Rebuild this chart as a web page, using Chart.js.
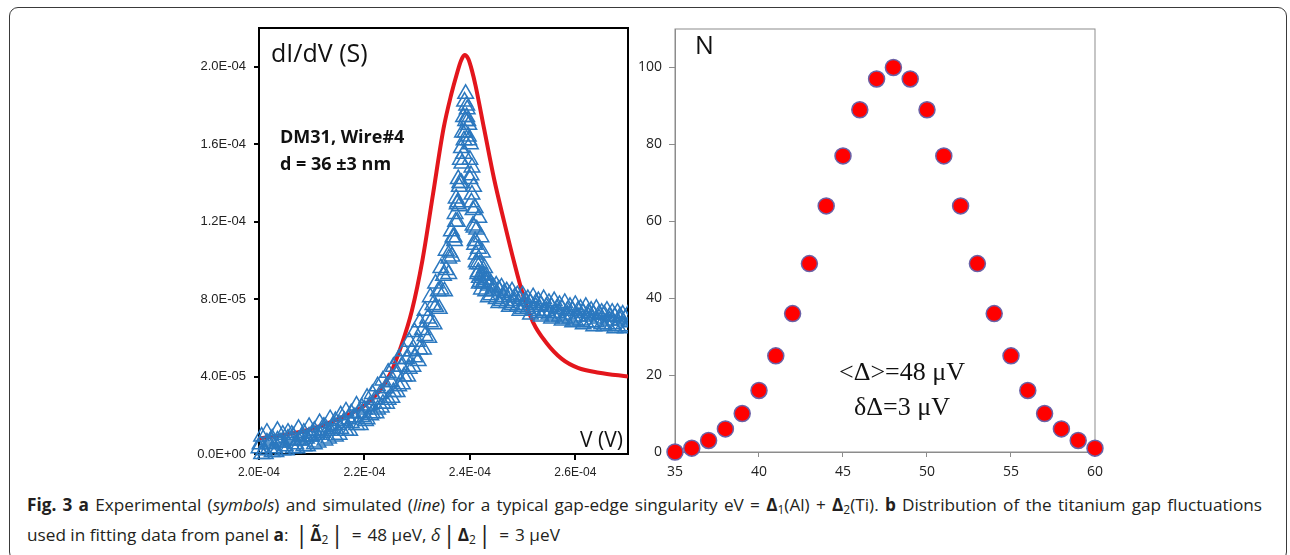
<!DOCTYPE html>
<html lang="en">

<head>
    <meta charset="UTF-8">
    <title>Fig. 3 - gap-edge singularity</title>
    <script src="https://cdn.jsdelivr.net/npm/chart.js"></script>
    <style>
        body { margin: 0; width: 1290px; height: 555px; overflow: hidden; position: relative; background: #fff; font-family: "Open Sans", sans-serif; }
        .frame { position: absolute; left: 9px; top: 7px; width: 1276px; height: 552px; border: 1.5px solid #3a3a3a; border-radius: 9px; }
        #chartA { position: absolute; left: 180px; top: 0; }
        #chartB { position: absolute; left: 630px; top: 0; }
        .caption { position: absolute; left: 27px; width: 1235px; font-size: 17.2px; line-height: 30px; color: #231f20; white-space: nowrap; }
        .line1 { top: 490px; text-align: justify; text-align-last: justify; white-space: normal; }
        .line2 { top: 520px; }
        .caption sub { font-size: 0.7em; vertical-align: -0.25em; line-height: 0; }
        .caption .bar { font-size: 1.4em; line-height: 0; vertical-align: -0.08em; padding: 0 2px; }
        .caption .eq { padding: 0 6px; }
    </style>
</head>

<body>
    <div class="frame"></div>
    <canvas id="chartA" width="460" height="490"></canvas>
    <canvas id="chartB" width="480" height="490"></canvas>

    <div class="caption line1"><b>Fig. 3</b> <b>a</b> Experimental (<i>symbols</i>) and simulated (<i>line</i>) for a typical gap-edge singularity eV = <b>Δ</b><sub>1</sub>(Al) + <b>Δ</b><sub>2</sub>(Ti). <b>b</b> Distribution of the titanium gap fluctuations</div>
    <div class="caption line2">used in fitting data from panel <b>a</b>: <span class="bar">|</span><b>Δ̃</b><sub>2</sub><span class="bar">|</span><span class="eq">=</span>48 μeV, <i>δ</i><span class="bar">|</span><b>Δ</b><sub>2</sub><span class="bar">|</span><span class="eq">=</span>3 μeV</div>

    <script>
        // panel a, both axes in units of 1E-04 (V and S)
        const simV = [2.000, 2.050, 2.100, 2.150, 2.200, 2.230, 2.250, 2.270, 2.290, 2.310,
                      2.330, 2.350, 2.365, 2.375, 2.383, 2.390, 2.397, 2.404, 2.411, 2.427,
                      2.446, 2.465, 2.484, 2.500, 2.520, 2.545, 2.575, 2.605, 2.645, 2.700];
        const simG = [0.08, 0.10, 0.13, 0.18, 0.25, 0.33, 0.42, 0.56, 0.74, 1.00,
                      1.34, 1.68, 1.86, 1.96, 2.03, 2.06, 2.04, 1.98, 1.90, 1.68,
                      1.42, 1.20, 0.99, 0.83, 0.68, 0.575, 0.49, 0.445, 0.42, 0.40];

        const expV = [
            2.000, 2.005, 2.010, 2.015, 2.020, 2.025, 2.030, 2.035, 2.040, 2.045,
            2.050, 2.055, 2.060, 2.065, 2.070, 2.075, 2.080, 2.085, 2.090, 2.095,
            2.100, 2.105, 2.110, 2.115, 2.120, 2.125, 2.130, 2.135, 2.140, 2.145,
            2.150, 2.155, 2.160, 2.165, 2.170, 2.175, 2.180, 2.185, 2.190, 2.195,
            2.200, 2.205, 2.210, 2.215, 2.220, 2.225, 2.230, 2.235, 2.240, 2.245,
            2.250, 2.255, 2.260, 2.265, 2.270, 2.275, 2.280, 2.285, 2.290, 2.295,
            2.300, 2.305, 2.310, 2.315, 2.320, 2.325, 2.330, 2.335, 2.340, 2.345,
            2.350, 2.355, 2.360, 2.365, 2.370, 2.372, 2.374, 2.376, 2.378, 2.380,
            2.382, 2.384, 2.386, 2.388, 2.390, 2.392, 2.394, 2.396, 2.398, 2.400,
            2.402, 2.404, 2.406, 2.408, 2.410, 2.412, 2.414, 2.416, 2.418, 2.420,
            2.425, 2.430, 2.435, 2.440, 2.445, 2.450, 2.455, 2.460, 2.465, 2.470,
            2.475, 2.480, 2.485, 2.490, 2.495, 2.500, 2.505, 2.510, 2.515, 2.520,
            2.525, 2.530, 2.535, 2.540, 2.545, 2.550, 2.555, 2.560, 2.565, 2.570,
            2.575, 2.580, 2.585, 2.590, 2.595, 2.600, 2.605, 2.610, 2.615, 2.620,
            2.625, 2.630, 2.635, 2.640, 2.645, 2.650, 2.655, 2.660, 2.665, 2.670,
            2.675, 2.680, 2.685, 2.690, 2.695, 2.700,
            // second sweep
            2.005, 2.015, 2.025, 2.035, 2.045, 2.055, 2.065, 2.075, 2.085, 2.095,
            2.105, 2.115, 2.125, 2.135, 2.145, 2.155, 2.165, 2.175, 2.185, 2.195,
            2.205, 2.215, 2.225, 2.235, 2.245, 2.255, 2.265, 2.275, 2.285, 2.295,
            2.305, 2.315, 2.325, 2.335, 2.345, 2.355, 2.362, 2.368, 2.373, 2.377,
            2.381, 2.385, 2.389, 2.392, 2.395, 2.398, 2.401, 2.404, 2.407, 2.410,
            2.413, 2.416, 2.419, 2.423, 2.428, 2.435, 2.445, 2.455, 2.465, 2.475,
            2.485, 2.495, 2.505, 2.515, 2.525, 2.535, 2.545, 2.555, 2.565, 2.575,
            2.585, 2.595, 2.605, 2.615, 2.625, 2.635, 2.645, 2.655, 2.665, 2.675,
            2.685, 2.695, 2.705,
            // third sweep
            2.002, 2.012, 2.022, 2.032, 2.042, 2.052, 2.062, 2.072, 2.082, 2.092,
            2.102, 2.112, 2.122, 2.132, 2.142, 2.152, 2.162, 2.172, 2.182, 2.192,
            2.202, 2.212, 2.222, 2.232, 2.242, 2.252, 2.262, 2.272, 2.282, 2.292,
            2.302, 2.312, 2.322, 2.332, 2.342, 2.352, 2.360, 2.366, 2.371, 2.376,
            2.380, 2.384, 2.388, 2.391, 2.394, 2.397, 2.400, 2.403, 2.406, 2.409,
            2.412, 2.415, 2.418, 2.422, 2.427, 2.432, 2.440, 2.450, 2.460, 2.470,
            2.480, 2.490, 2.500, 2.510, 2.520, 2.530, 2.540, 2.550, 2.560, 2.570,
            2.580, 2.590, 2.600, 2.610, 2.620, 2.630, 2.640, 2.650, 2.660, 2.670,
            2.680, 2.690, 2.700,
            // stragglers on the falling side of the peak
            2.417, 2.421, 2.424, 2.428, 2.431
        ];
        const expG = [
            0.03, 0.09, 0.02, 0.11, 0.05, 0.08, 0.03, 0.12, 0.06, 0.10,
            0.04, 0.11, 0.07, 0.09, 0.05, 0.13, 0.07, 0.11, 0.08, 0.14,
            0.09, 0.12, 0.10, 0.16, 0.11, 0.14, 0.12, 0.18, 0.13, 0.17,
            0.15, 0.20, 0.16, 0.22, 0.18, 0.21, 0.19, 0.25, 0.21, 0.24,
            0.23, 0.29, 0.25, 0.31, 0.28, 0.35, 0.31, 0.38, 0.34, 0.42,
            0.37, 0.45, 0.41, 0.49, 0.45, 0.53, 0.49, 0.58, 0.53, 0.63,
            0.58, 0.68, 0.64, 0.74, 0.70, 0.81, 0.77, 0.88, 0.84, 0.96,
            0.92, 1.05, 1.01, 1.15, 1.12, 1.24, 1.32, 1.29, 1.42, 1.38,
            1.52, 1.58, 1.66, 1.74, 1.82, 1.86, 1.80, 1.72, 1.62, 1.52,
            1.44, 1.34, 1.26, 1.17, 1.10, 1.03, 0.98, 0.94, 0.91, 0.89,
            0.88, 0.84, 0.87, 0.82, 0.86, 0.80, 0.85, 0.79, 0.83, 0.78,
            0.82, 0.77, 0.81, 0.76, 0.80, 0.75, 0.79, 0.75, 0.78, 0.74,
            0.78, 0.73, 0.77, 0.73, 0.76, 0.72, 0.76, 0.71, 0.75, 0.71,
            0.75, 0.70, 0.74, 0.70, 0.74, 0.69, 0.74, 0.69, 0.73, 0.68,
            0.73, 0.68, 0.72, 0.68, 0.72, 0.67, 0.72, 0.67, 0.71, 0.67,
            0.71, 0.66, 0.71, 0.66, 0.70, 0.66,
            // second sweep
            0.00, 0.06, 0.01, 0.07, 0.02, 0.08, 0.03, 0.07, 0.04, 0.09,
            0.05, 0.10, 0.07, 0.12, 0.09, 0.13, 0.12, 0.16, 0.15, 0.19,
            0.18, 0.21, 0.23, 0.26, 0.28, 0.32, 0.35, 0.40, 0.44, 0.50,
            0.54, 0.61, 0.68, 0.76, 0.85, 0.95, 1.04, 1.12, 1.20, 1.30,
            1.40, 1.50, 1.62, 1.72, 1.78, 1.70, 1.60, 1.48, 1.38, 1.27,
            1.16, 1.06, 0.98, 0.92, 0.90, 0.81, 0.84, 0.78, 0.81, 0.76,
            0.79, 0.74, 0.77, 0.72, 0.76, 0.71, 0.74, 0.70, 0.73, 0.69,
            0.72, 0.68, 0.71, 0.67, 0.71, 0.66, 0.70, 0.66, 0.69, 0.65,
            0.69, 0.65, 0.68,
            // third sweep
            0.05, 0.00, 0.07, 0.01, 0.06, 0.02, 0.10, 0.03, 0.09, 0.04,
            0.11, 0.06, 0.14, 0.08, 0.15, 0.10, 0.17, 0.12, 0.19, 0.15,
            0.17, 0.20, 0.21, 0.24, 0.26, 0.29, 0.32, 0.36, 0.40, 0.45,
            0.48, 0.54, 0.60, 0.67, 0.75, 0.84, 0.93, 1.02, 1.10, 1.20,
            1.28, 1.40, 1.55, 1.66, 1.74, 1.64, 1.42, 1.30, 1.18, 1.08,
            0.99, 0.93, 0.88, 0.85, 0.92, 0.90, 0.88, 0.87, 0.86, 0.84,
            0.84, 0.82, 0.82, 0.80, 0.81, 0.79, 0.80, 0.78, 0.79, 0.77,
            0.78, 0.76, 0.77, 0.75, 0.76, 0.74, 0.75, 0.73, 0.74, 0.73,
            0.73, 0.72, 0.72,
            // stragglers
            1.22, 1.12, 1.04, 0.96, 0.92
        ];

        // panel b
        const deltaBins = [35, 36, 37, 38, 39, 40, 41, 42, 43, 44, 45, 46, 47,
                           48, 49, 50, 51, 52, 53, 54, 55, 56, 57, 58, 59, 60];
        const deltaCounts = [0, 1, 3, 6, 10, 16, 25, 36, 49, 64, 77, 89, 97,
                             100, 97, 89, 77, 64, 49, 36, 25, 16, 10, 6, 3, 1];

        const RED = '#e3161c';
        const BLUE = '#2b78bf';

        // 2.0 -> "2.0E-04"
        function sci(v) {
            const parts = (v * 1e-4).toExponential(1).split('e');
            const n = parseInt(parts[1], 10);
            return parts[0] + 'E' + (n < 0 ? '-' : '+') + String(Math.abs(n)).padStart(2, '0');
        }

        const boxAndNotes = {
            id: 'boxAndNotes',
            beforeDatasetsDraw(chart, args, opts) {
                const { ctx, chartArea: a } = chart;
                ctx.save();
                ctx.strokeStyle = opts.color;
                ctx.lineWidth = opts.width;
                ctx.strokeRect(a.left, a.top, a.right - a.left, a.bottom - a.top);
                ctx.restore();
            },
            afterDraw(chart, args, opts) {
                const ctx = chart.ctx;
                ctx.save();
                ctx.fillStyle = '#111';
                ctx.textBaseline = 'alphabetic';
                (opts.notes || []).forEach(n => {
                    ctx.font = n.font;
                    ctx.textAlign = n.align || 'left';
                    ctx.fillText(n.text, n.x, n.y);
                });
                ctx.restore();
            }
        };

        new Chart(document.getElementById('chartA'), {
            type: 'scatter',
            data: {
                datasets: [{
                    label: 'simulated',
                    data: simV.map((v, i) => ({ x: v, y: simG[i] })),
                    showLine: true,
                    borderColor: RED,
                    borderWidth: 4,
                    pointRadius: 0,
                    tension: 0.4,
                    cubicInterpolationMode: 'monotone',
                    order: 1
                }, {
                    label: 'experimental',
                    data: expV.map((v, i) => ({ x: v, y: expG[i] })),
                    pointStyle: 'triangle',
                    pointRadius: 9,
                    borderColor: BLUE,
                    backgroundColor: 'rgba(0,0,0,0)',
                    borderWidth: 1.5,
                    clip: { left: 12, top: 0, right: 0, bottom: 12 },
                    order: 0
                }]
            },
            options: {
                responsive: false,
                animation: false,
                devicePixelRatio: 1,
                layout: { padding: { top: 28, right: 12 } },
                plugins: {
                    legend: { display: false },
                    tooltip: { enabled: false },
                    boxAndNotes: {
                        color: '#000', width: 2,
                        notes: [
                            { text: 'dI/dV (S)', x: 91, y: 62, font: '25px "Open Sans"' },
                            { text: 'DM31, Wire#4', x: 100, y: 143, font: 'bold 18px "Open Sans"' },
                            { text: 'd = 36 \u00b13 nm', x: 100, y: 170, font: 'bold 18px "Open Sans"' },
                            { text: 'V (V)', x: 443, y: 447, font: '21px "Open Sans"', align: 'right' }
                        ]
                    }
                },
                scales: {
                    x: {
                        type: 'linear', min: 2.0, max: 2.7,
                        afterFit(s) { s.height = 36; },
                        ticks: { stepSize: 0.2, includeBounds: false, maxRotation: 0, autoSkip: false, padding: 5,
                                 color: '#222', font: { family: 'Liberation Sans', size: 12 }, callback: v => sci(v) },
                        grid: { drawOnChartArea: false, tickLength: 6, color: '#000', lineWidth: 2 },
                        border: { color: '#000', width: 2 }
                    },
                    y: {
                        type: 'linear', min: 0, max: 2.2,
                        afterFit(s) { s.width = 79; },
                        ticks: { stepSize: 0.4, includeBounds: false, padding: 8,
                                 color: '#222', font: { family: 'Liberation Sans', size: 13 }, callback: v => sci(v) },
                        grid: { drawOnChartArea: false, tickLength: 5, color: '#000', lineWidth: 2 },
                        border: { color: '#000', width: 2 }
                    }
                }
            },
            plugins: [boxAndNotes]
        });

        new Chart(document.getElementById('chartB'), {
            type: 'scatter',
            data: {
                datasets: [{
                    label: 'N',
                    data: deltaBins.map((x, i) => ({ x: x, y: deltaCounts[i] })),
                    pointRadius: 8,
                    backgroundColor: '#ff0000',
                    borderColor: '#6a62a8',
                    borderWidth: 1.5,
                    clip: false
                }]
            },
            options: {
                responsive: false,
                animation: false,
                devicePixelRatio: 1,
                layout: { padding: { top: 29, right: 15 } },
                plugins: {
                    legend: { display: false },
                    tooltip: { enabled: false },
                    boxAndNotes: {
                        color: '#8c8c8c', width: 1,
                        notes: [
                            { text: 'N', x: 65, y: 54, font: '25px "Open Sans"' },
                            { text: '<\u0394>=48 \u03bcV', x: 272, y: 380, font: '26px "Liberation Serif"', align: 'center' },
                            { text: '\u03b4\u0394=3 \u03bcV', x: 272, y: 415, font: '26px "Liberation Serif"', align: 'center' }
                        ]
                    }
                },
                scales: {
                    x: {
                        type: 'linear', min: 35, max: 60,
                        afterFit(s) { s.height = 38; },
                        ticks: { stepSize: 5, maxRotation: 0, padding: 7, color: '#222', font: { family: 'Open Sans', size: 14 } },
                        grid: { drawOnChartArea: false, tickLength: 5, color: '#8c8c8c' },
                        border: { color: '#8c8c8c', width: 1 }
                    },
                    y: {
                        type: 'linear', min: 0, max: 110,
                        afterFit(s) { s.width = 45; },
                        ticks: { stepSize: 20, includeBounds: false, padding: 7, color: '#222', font: { family: 'Open Sans', size: 14 } },
                        grid: { drawOnChartArea: false, tickLength: 6, color: '#8c8c8c' },
                        border: { color: '#8c8c8c', width: 1 }
                    }
                }
            },
            plugins: [boxAndNotes]
        });
    </script>
</body>

</html>
